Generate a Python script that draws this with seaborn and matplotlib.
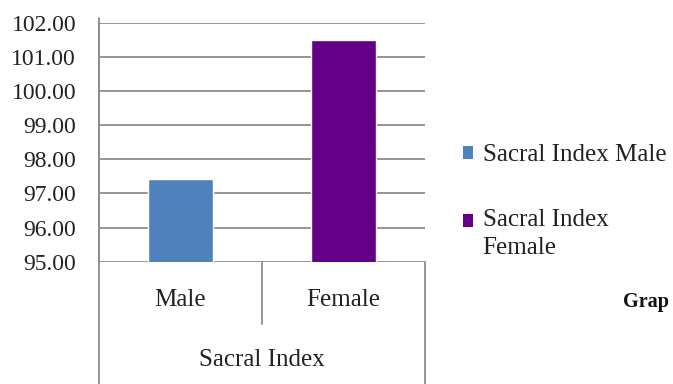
"""
Sacral index by sex - bar chart recreated with seaborn.
"""

import pandas as pd
import matplotlib.pyplot as plt
from matplotlib.patches import Patch, Rectangle
from matplotlib.legend_handler import HandlerPatch
import seaborn as sns

sns.set_theme(style="white")
plt.rcParams["font.family"] = ["Liberation Serif", "DejaVu Serif"]

# ── Data ─────────────────────────────────────────────────────────────────────
sexes = ["Male", "Female"]
sacral_index = [97.41, 101.48]
series_names = ["Sacral Index Male", "Sacral Index\nFemale"]
group_label = "Sacral Index"
colors = ["#4F81BD", "#640088"]
y_ticks = [95, 96, 97, 98, 99, 100, 101, 102]

df = pd.DataFrame({"sex": sexes, "value": sacral_index})

# ── Plot ─────────────────────────────────────────────────────────────────────
fig = plt.figure(figsize=(6.73, 3.84), dpi=100)
ax = fig.add_axes([0.1471, 0.3185, 0.4844, 0.6224])

sns.barplot(data=df, x="sex", y="value", hue="sex", palette=colors,
            width=0.4, legend=False, ax=ax, saturation=1)

ax.set_xlim(-0.5, len(sexes) - 0.5)
ax.set_ylim(95, 102)
ax.set_yticks(y_ticks)
ax.set_yticklabels([f"{v:.2f}" for v in y_ticks])
ax.set_ylabel("")
ax.grid(axis="y", color="#8c8c8c", linewidth=1.3)
ax.set_axisbelow(True)

for side in ["top", "right", "bottom"]:
    ax.spines[side].set_visible(False)
ax.spines["left"].set_color("#8c8c8c")
ax.spines["left"].set_linewidth(1.3)

ax.tick_params(axis="y", direction="out", length=5.5, width=1.3,
               color="#8c8c8c", pad=11, labelsize=17, labelcolor="#222222")
ax.tick_params(axis="x", length=0, pad=20, labelsize=18, labelcolor="#222222")

# category frame below the axis (left, middle and right dividers)
frame = dict(color="#8c8c8c", linewidth=1.3, clip_on=False,
             transform=ax.transAxes)
ax.plot([0, 0], [1.02, -0.52], **frame)
ax.plot([1, 1], [0, -0.52], **frame)
ax.plot([0.5, 0.5], [0, -0.26], **frame)

ax.set_xlabel(group_label, fontsize=18, color="#222222")
ax.xaxis.set_label_coords(0.5, -0.365)


# legend squares sit next to the first line of a wrapped label
def top_square(legend, orig_handle, xdescent, ydescent, width, height, fontsize):
    return Rectangle((-xdescent, -ydescent + 9), width, height)


handles = [Patch(facecolor=c, edgecolor="none") for c in colors]
leg = fig.legend(handles, series_names, loc="upper left",
                 bbox_to_anchor=(0.654, 0.683), frameon=False, fontsize=18,
                 handlelength=0.4, handleheight=0.4, handletextpad=0.4,
                 labelspacing=1.7, labelcolor="#222222",
                 handler_map={handles[1]: HandlerPatch(patch_func=top_square)})
for t in leg.get_texts():
    t.set_linespacing(1.35)

fig.text(0.925, 0.213, "Grap", fontsize=14.5, fontweight="bold",
         color="#111111", va="center")

plt.savefig("out.png", dpi=100)
